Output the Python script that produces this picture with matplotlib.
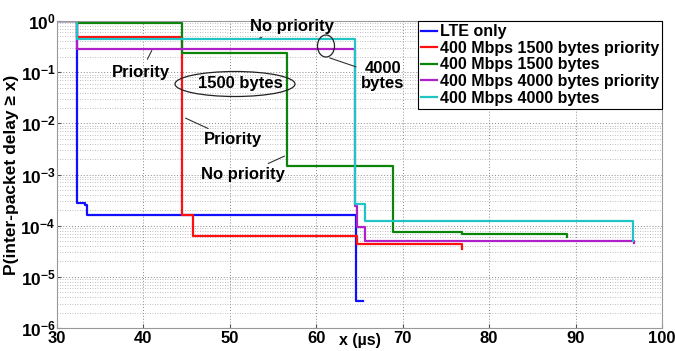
import matplotlib.pyplot as plt
from matplotlib.patches import Ellipse

# CCDF step points: value holds from x[i] up to x[i+1]
lte_x = [30, 32.35, 33.2, 33.5, 64.6, 65.4]
lte_y = [1, 2.8e-4, 2.5e-4, 1.6e-4, 3.4e-6, 3.4e-6]

p1500_x = [30, 32.35, 44.5, 45.7, 64.7, 76.9]
p1500_y = [1, 0.49, 1.65e-4, 6.4e-5, 4.3e-5, 3.5e-5]

n1500_x = [30, 32.35, 44.5, 56.65, 68.85, 76.9, 89.0]
n1500_y = [1, 0.91, 0.24, 1.45e-3, 7.4e-5, 6.8e-5, 6.0e-5]

p4000_x = [30, 32.35, 64.5, 64.7, 65.6, 96.8]
p4000_y = [1, 0.29, 2.4e-4, 9.5e-5, 5.1e-5, 4.6e-5]

n4000_x = [30, 32.35, 64.5, 65.6, 96.6]
n4000_y = [1, 0.445, 2.6e-4, 1.26e-4, 5.0e-5]

series = [
    (lte_x, lte_y, "#1010ff", "LTE only"),
    (p1500_x, p1500_y, "#ff1010", "400 Mbps 1500 bytes priority"),
    (n1500_x, n1500_y, "#0a840a", "400 Mbps 1500 bytes"),
    (p4000_x, p4000_y, "#b020c8", "400 Mbps 4000 bytes priority"),
    (n4000_x, n4000_y, "#20c4c4", "400 Mbps 4000 bytes"),
]

plt.rcParams["font.family"] = "Liberation Sans"
plt.rcParams["font.weight"] = "bold"
plt.rcParams["mathtext.fontset"] = "custom"
plt.rcParams["mathtext.rm"] = "Liberation Sans:bold"
plt.rcParams["mathtext.bf"] = "Liberation Sans:bold"
plt.rcParams["mathtext.default"] = "bf"

fig = plt.figure(figsize=(6.75, 3.51), dpi=100)
ax = fig.add_axes([0.0844, 0.0655, 0.8963, 0.8745])

for xs, ys, c, lab in series:
    ax.plot(xs, ys, drawstyle="steps-post", color=c, lw=1.6, label=lab)

ax.set_yscale("log")
ax.set_xlim(30, 100)
ax.set_ylim(1e-6, 1)
ax.set_xticks(range(30, 101, 10))
ax.tick_params(which="major", labelsize=12.5, direction="in", length=3, width=0.8,
               color="#555555")
ax.tick_params(which="minor", length=0)
ax.tick_params(axis="x", pad=2, labelsize=12)
ax.tick_params(axis="y", pad=1)
ax.grid(True, which="major", linestyle=(0, (1, 2)), color="#888888", lw=0.7)
ax.grid(True, which="minor", axis="y", linestyle=(0, (1, 2)), color="#aaaaaa", lw=0.6)
for s in ax.spines.values():
    s.set_color("#999999")

ax.set_ylabel("P(inter-packet delay \u2265 x)", fontsize=12.5, fontweight="bold", labelpad=1)
ax.set_xlabel("x (\u00b5s)", fontsize=11.5, fontweight="bold", labelpad=-9)

leg = ax.legend(loc="upper right", fontsize=11.5, handlelength=1.0, handletextpad=0.15,
                borderpad=0.2, labelspacing=0.1, fancybox=False, framealpha=1,
                borderaxespad=0)
leg.get_frame().set_edgecolor("black")
leg.get_frame().set_linewidth(0.8)


def px(x, y):
    # pixel position in the figure -> data coordinates
    return 30 + (x - 57) / 8.64, 10 ** (-(y - 21) / 51.2)


txt = dict(fontsize=12, fontweight="bold", ha="center", va="center")
arrow = dict(arrowstyle="-", color="#333333", lw=0.8)

ax.annotate("No priority", xy=px(257, 39), xytext=px(292, 26), arrowprops=arrow, **txt)
ax.annotate("4000\nbytes", xy=px(327, 57), xytext=px(383, 76), arrowprops=arrow,
            linespacing=1.0, **txt)
ax.annotate("Priority", xy=px(153, 48), xytext=px(141, 72), arrowprops=arrow, **txt)
ax.annotate("Priority", xy=px(183, 117), xytext=px(233, 140), arrowprops=arrow, **txt)
ax.annotate("No priority", xy=px(287, 155), xytext=px(243, 175), arrowprops=arrow, **txt)
ax.text(*px(240, 83), "1500 bytes", **txt)

# ellipses drawn in pixel space so they keep their shape on the log axis
for (cx, cy, w, h) in [(235, 84, 120, 25), (326, 46, 17, 22)]:
    e = Ellipse((cx, 351 - cy), w, h, transform=None, fill=False, color="#222222", lw=0.9)
    fig.add_artist(e)

fig.savefig("out.png", dpi=100)
